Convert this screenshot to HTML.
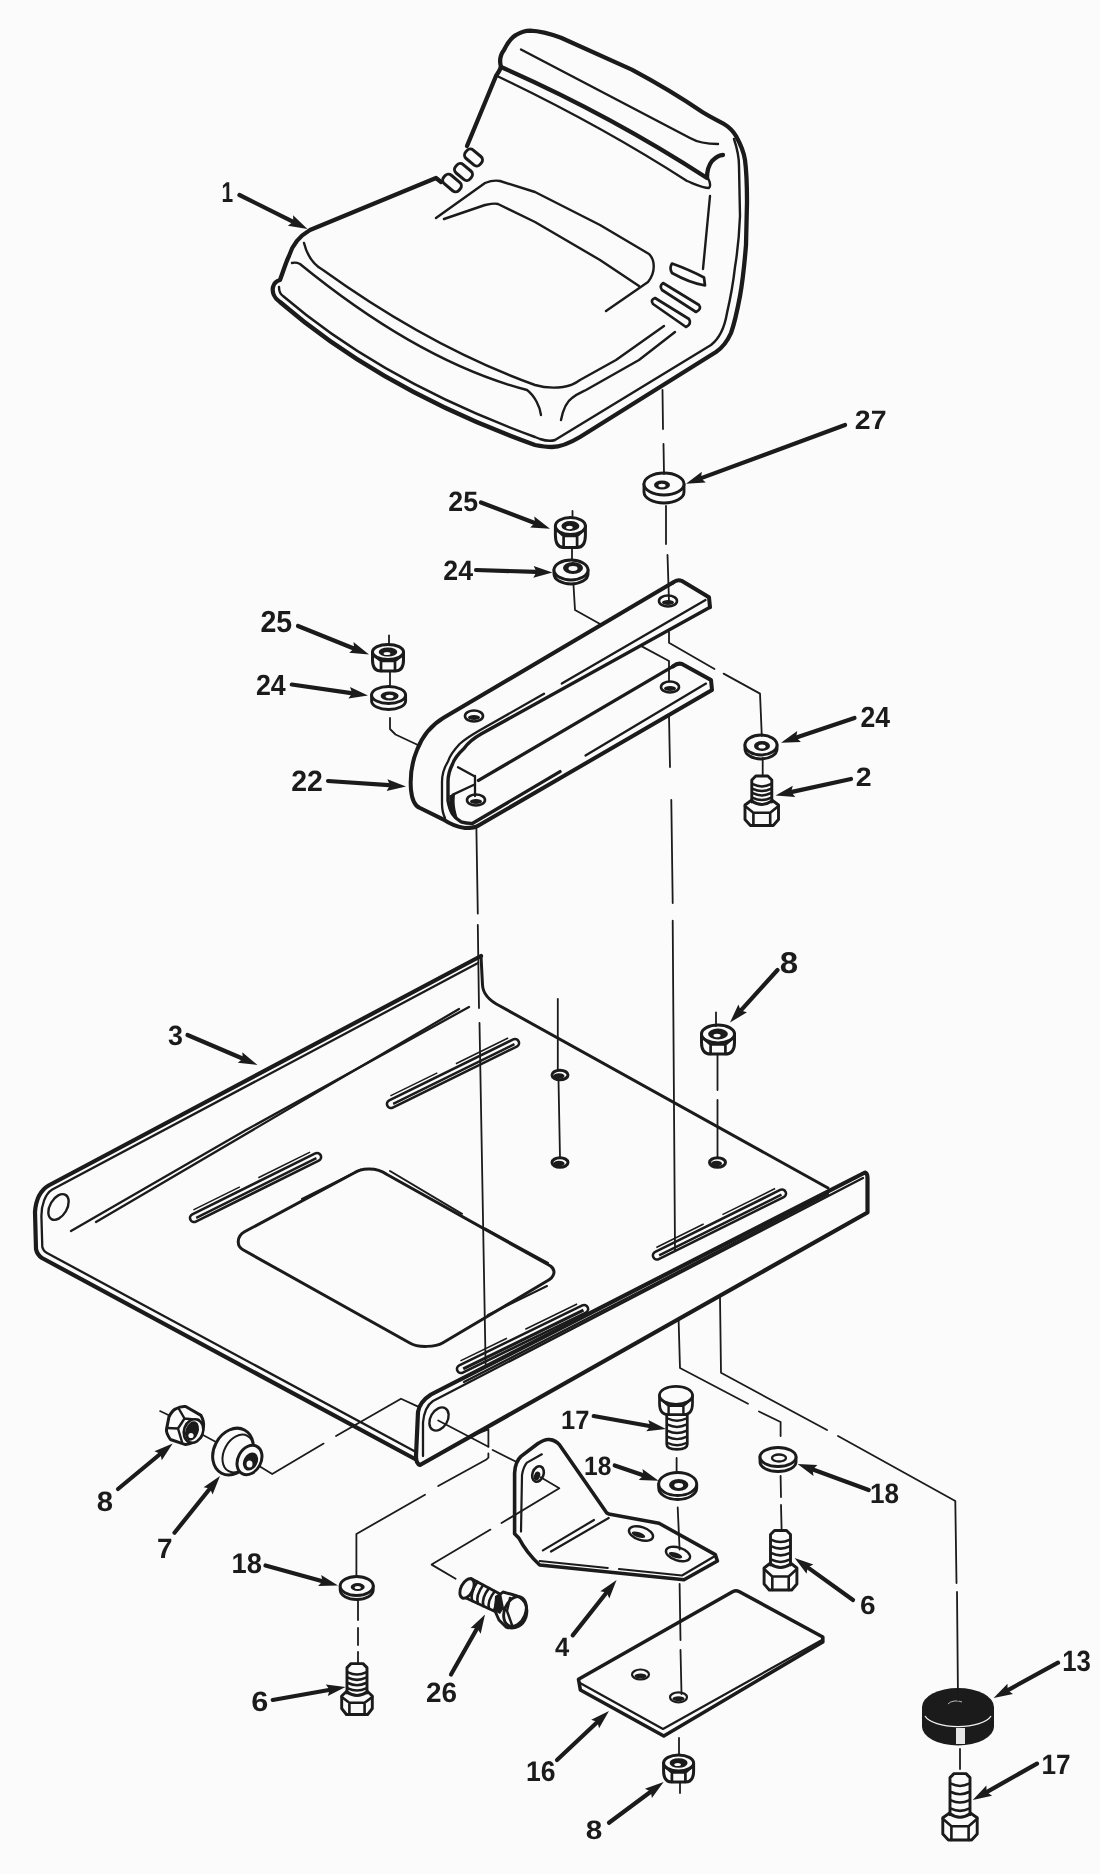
<!DOCTYPE html>
<html><head><meta charset="utf-8"><style>
html,body{margin:0;padding:0;background:#fbfbfb;}
svg{display:block;}
.lb{font-family:"Liberation Sans",sans-serif;font-weight:bold;fill:#1b1b1b;text-rendering:geometricPrecision;-webkit-font-smoothing:antialiased;}
svg{filter:grayscale(1);}
</style></head><body>
<svg width="1100" height="1874" viewBox="0 0 1100 1874">
<rect width="1100" height="1874" fill="#fbfbfb"/>
<path d="M501,67 C499,60 501,54 504,50 C508,42 512,37 516,35 C521,32 526,30.6 530,30.6 C541,31 551,34 561,37.7 L631.8,69.6 Q670,90 702.7,112.2 C712,118 719,121 724,124 C729,127 733,131 736,136 C741,145 744,153 745,160 C747,175 747,190 747,202 L746,245 C744,270 742,285 740,296 C737,312 735,322 731,333 C727,342 722,348 716,352 L580,437 C570,443 560,447 552,447 C545,447 540,446 535,445 Q382,390 280,302 C274,298 272,292 273,287 C274,283 276,281 280,280 C283,272 286,262 289,256 C292,246 298,237 310,230 L436,178 L441,182" fill="none" stroke="#1b1b1b" stroke-width="4.3" stroke-linejoin="round" stroke-linecap="round" />
<path d="M501,67 C500,70 498,73 496,76 L467,146" fill="none" stroke="#1b1b1b" stroke-width="4.3" stroke-linejoin="round" stroke-linecap="round" />
<path d="M501,67 Q610,115 707,178 C707,172 708,166 712,161 C716,157 720,155 723,155" fill="none" stroke="#1b1b1b" stroke-width="4.3" stroke-linejoin="round" stroke-linecap="round" />
<path d="M497,76 Q600,125 687,181 C697,185 703,188 709,188 C711,186 710,182 708,178" fill="none" stroke="#1b1b1b" stroke-width="2.4" stroke-linejoin="round" stroke-linecap="round" />
<path d="M521,49.5 L690,138 C697,142 705,144 718,144" fill="none" stroke="#1b1b1b" stroke-width="2.4" stroke-linejoin="round" stroke-linecap="round" />
<path d="M710,196 L703,269" fill="none" stroke="#1b1b1b" stroke-width="2.4" stroke-linejoin="round" stroke-linecap="round" />
<path d="M734,139 C737,148 739,158 739,166 L740,216 C739,240 737,255 735,267 C733,285 730,300 727,313 C725,325 720,338 711,345 L555,440 C549,442 543,440 540,439 L535,437 Q382,381 283,296 C280,294 279,290 279,287" fill="none" stroke="#1b1b1b" stroke-width="2.4" stroke-linejoin="round" stroke-linecap="round" />
<path d="M304,243 C307,255 314,265 323,270 Q430,347 535,385 C545,388 555,388 563,387 C570,386 576,383 580,380 L616,360 L664,326" fill="none" stroke="#1b1b1b" stroke-width="2.4" stroke-linejoin="round" stroke-linecap="round" />
<path d="M292,263 C296,262 298,263 300,264 Q420,362 527,390 C535,396 540,407 541,415" fill="none" stroke="#1b1b1b" stroke-width="2.4" stroke-linejoin="round" stroke-linecap="round" />
<path d="M561,420 C563,410 566,402 572,398 C577,394 582,392 586,390 L639,360 L675,332" fill="none" stroke="#1b1b1b" stroke-width="2.4" stroke-linejoin="round" stroke-linecap="round" />
<path d="M436,218 L485,183 C490,181 495,180 500,181 L535,192 L600,225 L649,254 C655,260 656,272 648,282 L606,311" fill="none" stroke="#1b1b1b" stroke-width="2.4" stroke-linejoin="round" stroke-linecap="round" />
<path d="M444,219 L485,205 C490,204 494,203 498,204 L535,222 L600,260 L639,286" fill="none" stroke="#1b1b1b" stroke-width="2.4" stroke-linejoin="round" stroke-linecap="round" />
<path d="M672,263.5 Q690,270 704,277.5 L705,285.5 Q690,283 672,273 Q669,268 672,263.5 Z" fill="none" stroke="#1b1b1b" stroke-width="2.7" stroke-linejoin="round" stroke-linecap="round" />
<path d="M663,283 L699,305 Q702,309 696,312 L662,290 Q659,286 663,283 Z" fill="none" stroke="#1b1b1b" stroke-width="2.7" stroke-linejoin="round" stroke-linecap="round" />
<path d="M655,298 L689,319 Q692,324 686,327 L653,304 Q650,300 655,298 Z" fill="none" stroke="#1b1b1b" stroke-width="2.7" stroke-linejoin="round" stroke-linecap="round" />
<rect x="464.0" y="152.0" width="19" height="11" rx="4.5" fill="none" stroke="#1b1b1b" stroke-width="3" transform="rotate(40 473.5 157.5)"/>
<rect x="454.0" y="166.5" width="19" height="11" rx="4.5" fill="none" stroke="#1b1b1b" stroke-width="3" transform="rotate(40 463.5 172.0)"/>
<rect x="442.0" y="177.5" width="20" height="11" rx="4.5" fill="none" stroke="#1b1b1b" stroke-width="3" transform="rotate(40 452.0 183.0)"/>
<path d="M481,956 L48.6,1185.5 C41,1190 36,1198 35,1212 L36,1249 C37,1254 39,1256 42,1258 L415,1459" fill="none" stroke="#1b1b1b" stroke-width="4.2" stroke-linejoin="round" stroke-linecap="round" />
<path d="M478,963 L52.3,1189.5 C45,1194 41.4,1205 41.4,1216 L42.3,1247 C43,1250 45,1252 47,1253 L416,1452" fill="none" stroke="#1b1b1b" stroke-width="2.3" stroke-linejoin="round" stroke-linecap="round" />
<path d="M481,956 L482.5,985 C483,995 490,1001 500,1006 L828,1188" fill="none" stroke="#1b1b1b" stroke-width="3.0" stroke-linejoin="round" stroke-linecap="round" />
<path d="M469,1007 L246,1130 L71,1231" fill="none" stroke="#1b1b1b" stroke-width="2.3" stroke-linejoin="round" stroke-linecap="round" />
<path d="M459,1009 L96,1222" fill="none" stroke="#1b1b1b" stroke-width="2.3" stroke-linejoin="round" stroke-linecap="round" />
<ellipse cx="58.5" cy="1207" rx="8.5" ry="14" fill="none" stroke="#1b1b1b" stroke-width="2.4" transform="rotate(30 58.5 1207)"/>
<path d="M418,1412 C419,1405 424,1399 431,1394.5 L865,1172.5 C866.5,1173 867.5,1175 867.5,1178 L867.5,1212.5 L420,1465 C417,1464 416,1460 416,1456 Z" fill="none" stroke="#1b1b1b" stroke-width="4.2" stroke-linejoin="round" stroke-linecap="round" />
<path d="M423,1456 L423,1422.5 C424,1412 427,1405 433,1401 L863,1178" fill="none" stroke="#1b1b1b" stroke-width="2.3" stroke-linejoin="round" stroke-linecap="round" />
<path d="M464,1382 L647,1288 L828,1194" fill="none" stroke="#1b1b1b" stroke-width="2.3" stroke-linejoin="round" stroke-linecap="round" />
<rect x="379.9" y="1069.5" width="146.2" height="8" rx="4.0" fill="none" stroke="#1b1b1b" stroke-width="2.6" transform="rotate(-26.19 453.0 1073.5)"/>
<line x1="385.9" y1="1074.3" x2="521.1" y2="1074.3" stroke="#1b1b1b" stroke-width="2.4" transform="rotate(-26.19 453.0 1073.5)"/>
<line x1="386.9" y1="1066.0" x2="439.2" y2="1066.0" stroke="#1b1b1b" stroke-width="1.5" transform="rotate(-26.19 453.0 1073.5)"/>
<line x1="459.9" y1="1066.0" x2="518.1" y2="1066.0" stroke="#1b1b1b" stroke-width="1.5" transform="rotate(-26.19 453.0 1073.5)"/>
<rect x="182.9" y="1183.5" width="145.3" height="8" rx="4.0" fill="none" stroke="#1b1b1b" stroke-width="2.6" transform="rotate(-26.38 255.5 1187.5)"/>
<line x1="188.9" y1="1188.3" x2="323.1" y2="1188.3" stroke="#1b1b1b" stroke-width="2.4" transform="rotate(-26.38 255.5 1187.5)"/>
<line x1="189.9" y1="1180.0" x2="241.8" y2="1180.0" stroke="#1b1b1b" stroke-width="1.5" transform="rotate(-26.38 255.5 1187.5)"/>
<line x1="262.4" y1="1180.0" x2="320.1" y2="1180.0" stroke="#1b1b1b" stroke-width="1.5" transform="rotate(-26.38 255.5 1187.5)"/>
<rect x="645.7" y="1220.5" width="147.5" height="8" rx="4.0" fill="none" stroke="#1b1b1b" stroke-width="2.6" transform="rotate(-26.38 719.5 1224.5)"/>
<line x1="651.7" y1="1225.3" x2="788.3" y2="1225.3" stroke="#1b1b1b" stroke-width="2.4" transform="rotate(-26.38 719.5 1224.5)"/>
<line x1="652.7" y1="1217.0" x2="705.5" y2="1217.0" stroke="#1b1b1b" stroke-width="1.5" transform="rotate(-26.38 719.5 1224.5)"/>
<line x1="726.5" y1="1217.0" x2="785.3" y2="1217.0" stroke="#1b1b1b" stroke-width="1.5" transform="rotate(-26.38 719.5 1224.5)"/>
<rect x="450.1" y="1335.0" width="144.9" height="8" rx="4.0" fill="none" stroke="#1b1b1b" stroke-width="2.6" transform="rotate(-26.00 522.5 1339.0)"/>
<line x1="456.1" y1="1339.8" x2="589.9" y2="1339.8" stroke="#1b1b1b" stroke-width="3.2" transform="rotate(-26.00 522.5 1339.0)"/>
<line x1="457.1" y1="1331.5" x2="508.8" y2="1331.5" stroke="#1b1b1b" stroke-width="1.5" transform="rotate(-26.00 522.5 1339.0)"/>
<line x1="529.3" y1="1331.5" x2="586.9" y2="1331.5" stroke="#1b1b1b" stroke-width="1.5" transform="rotate(-26.00 522.5 1339.0)"/>
<path d="M244.5,1231.8 L354,1173 C360,1169 375,1166 387,1174.5 L550.5,1266 C556,1270 555,1277 547,1281 L442.5,1343 C436,1347 418,1348 409.8,1343 L243,1249.8 C236,1246 237,1236 244.5,1231.8 Z" fill="none" stroke="#1b1b1b" stroke-width="3.0" stroke-linejoin="round" stroke-linecap="round" />
<path d="M302,1199 L360.7,1169.6 M390,1171 L462,1213.8 M485,1228.5 L548,1263 M488,1315 L547,1286" fill="none" stroke="#1b1b1b" stroke-width="2.0" stroke-linejoin="round" stroke-linecap="round" />
<ellipse cx="560" cy="1075" rx="8" ry="4.8" fill="none" stroke="#1b1b1b" stroke-width="3.0"/>
<ellipse cx="559" cy="1076" rx="5.5" ry="2.8" fill="#1b1b1b"/>
<ellipse cx="560" cy="1162.5" rx="8" ry="4.8" fill="none" stroke="#1b1b1b" stroke-width="3.0"/>
<ellipse cx="559" cy="1163.5" rx="5.5" ry="2.8" fill="#1b1b1b"/>
<ellipse cx="717.5" cy="1162.5" rx="8" ry="4.8" fill="none" stroke="#1b1b1b" stroke-width="3.0"/>
<ellipse cx="716.5" cy="1163.5" rx="5.5" ry="2.8" fill="#1b1b1b"/>
<ellipse cx="439" cy="1419" rx="8.5" ry="12.5" fill="none" stroke="#1b1b1b" stroke-width="2.4" transform="rotate(30 439 1419)"/>
<path d="M673,582.5 C676,580 679,579.5 682,581 L709,597.3 L710,607.3" fill="none" stroke="#1b1b1b" stroke-width="4.0" stroke-linejoin="round" stroke-linecap="round" />
<path d="M673,582.5 L443.6,717.8 C430,726 422,737 417,750 C412,762 410,778 411,790 C412,800 415,806 420,808 L443.6,819.6 C450,824 458,827 465,828 C470,828 475,828 478.5,825.5 L712,690 L711,680 L682,664 C679,663 676,664 673,666.4" fill="none" stroke="#1b1b1b" stroke-width="4.0" stroke-linejoin="round" stroke-linecap="round" />
<path d="M710,607.3 L481.5,733.8 C474,738 468,743 464,748.4 C458,754 454,759 452.4,764.4 C449,771 448,776 448,781.8 L448,800.7 C449,806 450,810 452.4,813.8 C455,818 458,820 461,821.8 C465,823 469,823.5 472.7,823.3 L560,771.6" fill="none" stroke="#1b1b1b" stroke-width="3.4" stroke-linejoin="round" stroke-linecap="round" />
<path d="M544,693.8 L478.5,731 C470,736 464,740 459.6,744 C454,750 450,755 448,761.5 C444,768 442,775 442,781.8 L442,803.6 C442,810 443,814 445,818" fill="none" stroke="#1b1b1b" stroke-width="2.3" stroke-linejoin="round" stroke-linecap="round" />
<path d="M561.8,683.6 L705.5,600" fill="none" stroke="#1b1b1b" stroke-width="2.3" stroke-linejoin="round" stroke-linecap="round" />
<path d="M585.5,755.5 L706,683.6" fill="none" stroke="#1b1b1b" stroke-width="2.3" stroke-linejoin="round" stroke-linecap="round" />
<path d="M478.5,780.4 L673,666.4" fill="none" stroke="#1b1b1b" stroke-width="3.4" stroke-linejoin="round" stroke-linecap="round" />
<path d="M452.4,794.9 L474,784.7 M474,776 L458,767.3 M475,776 L475,796" fill="none" stroke="#1b1b1b" stroke-width="2.3" stroke-linejoin="round" stroke-linecap="round" />
<path d="M449.5,795 C449,803 450,812 457,820 L458,819 C455,810 454,803 455,795 Z" fill="#1b1b1b" stroke="none" />
<ellipse cx="474" cy="716" rx="9" ry="5.5" fill="none" stroke="#1b1b1b" stroke-width="2.6"/>
<ellipse cx="474" cy="717.5" rx="6" ry="2.5" fill="#1b1b1b"/>
<ellipse cx="476" cy="800" rx="9" ry="5.5" fill="none" stroke="#1b1b1b" stroke-width="2.6"/>
<ellipse cx="476" cy="801.5" rx="6" ry="2.5" fill="#1b1b1b"/>
<ellipse cx="668" cy="601" rx="9" ry="5.5" fill="none" stroke="#1b1b1b" stroke-width="2.6"/>
<ellipse cx="668" cy="602.5" rx="6" ry="2.5" fill="#1b1b1b"/>
<ellipse cx="670" cy="687" rx="9" ry="5.5" fill="none" stroke="#1b1b1b" stroke-width="2.6"/>
<ellipse cx="670" cy="688.5" rx="6" ry="2.5" fill="#1b1b1b"/>
<path d="M644.0,484.0 L644.0,492.0 A20.0,11.0 0 0 0 684.0,492.0 L684.0,484.0" fill="none" stroke="#1b1b1b" stroke-width="2.9" stroke-linejoin="round" stroke-linecap="round" />
<ellipse cx="664.0" cy="484.0" rx="20.0" ry="11.0" fill="#fbfbfb" stroke="#1b1b1b" stroke-width="2.9"/>
<ellipse cx="662.0" cy="485.0" rx="8.0" ry="4.5" fill="#1b1b1b"/>
<ellipse cx="662.0" cy="485.5" rx="3.6" ry="1.8" fill="#fbfbfb"/>
<path d="M555.4,526.0 L555.4,535.1 Q555.4,547.6 563.6,547.6 L577.1,547.6 Q585.4,547.6 585.4,535.1 L585.4,526.0" fill="#fbfbfb" stroke="#1b1b1b" stroke-width="3.0" stroke-linejoin="round" stroke-linecap="round" />
<ellipse cx="570.4" cy="526.0" rx="15.0" ry="8.5" fill="#fbfbfb" stroke="#1b1b1b" stroke-width="3.0"/>
<path d="M555.9,529.0 L563.6,536.0 L577.1,536.0 L584.9,529.0 M563.6,536.0 L563.6,547.6 M577.1,536.0 L577.1,547.6" fill="none" stroke="#1b1b1b" stroke-width="2.7" stroke-linejoin="round" stroke-linecap="round" />
<ellipse cx="570.4" cy="526.0" rx="9.0" ry="5.1" fill="#1b1b1b"/>
<ellipse cx="569.4" cy="527.5" rx="3.3" ry="1.7" fill="#fbfbfb"/>
<path d="M554.0,570.0 L554.0,574.0 A17.0,10.0 0 0 0 588.0,574.0 L588.0,570.0" fill="none" stroke="#1b1b1b" stroke-width="2.9" stroke-linejoin="round" stroke-linecap="round" />
<ellipse cx="571.0" cy="570.0" rx="17.0" ry="10.0" fill="#fbfbfb" stroke="#1b1b1b" stroke-width="2.9"/>
<ellipse cx="573.0" cy="568.0" rx="10.0" ry="6.0" fill="#1b1b1b"/>
<ellipse cx="573.0" cy="568.5" rx="4.5" ry="2.4" fill="#fbfbfb"/>
<path d="M372.5,652.0 L372.5,660.0 Q372.5,671.0 381.0,671.0 L395.0,671.0 Q403.5,671.0 403.5,660.0 L403.5,652.0" fill="#fbfbfb" stroke="#1b1b1b" stroke-width="3.0" stroke-linejoin="round" stroke-linecap="round" />
<ellipse cx="388.0" cy="652.0" rx="15.5" ry="7.5" fill="#fbfbfb" stroke="#1b1b1b" stroke-width="3.0"/>
<path d="M373.0,654.6 L381.0,661.0 L395.0,661.0 L403.0,654.6 M381.0,661.0 L381.0,671.0 M395.0,661.0 L395.0,671.0" fill="none" stroke="#1b1b1b" stroke-width="2.7" stroke-linejoin="round" stroke-linecap="round" />
<ellipse cx="388.0" cy="652.0" rx="9.3" ry="4.5" fill="#1b1b1b"/>
<ellipse cx="387.0" cy="653.5" rx="3.4" ry="1.5" fill="#fbfbfb"/>
<path d="M371.6,695.0 L371.6,701.0 A17.0,8.5 0 0 0 405.6,701.0 L405.6,695.0" fill="none" stroke="#1b1b1b" stroke-width="2.9" stroke-linejoin="round" stroke-linecap="round" />
<ellipse cx="388.6" cy="695.0" rx="17.0" ry="8.5" fill="#fbfbfb" stroke="#1b1b1b" stroke-width="2.9"/>
<ellipse cx="389.6" cy="696.0" rx="9.0" ry="4.5" fill="#1b1b1b"/>
<ellipse cx="389.6" cy="696.5" rx="4.0" ry="1.8" fill="#fbfbfb"/>
<path d="M745.0,745.0 L745.0,749.0 A16.0,10.0 0 0 0 777.0,749.0 L777.0,745.0" fill="none" stroke="#1b1b1b" stroke-width="2.9" stroke-linejoin="round" stroke-linecap="round" />
<ellipse cx="761.0" cy="745.0" rx="16.0" ry="10.0" fill="#fbfbfb" stroke="#1b1b1b" stroke-width="2.9"/>
<ellipse cx="762.0" cy="746.0" rx="8.0" ry="5.0" fill="#1b1b1b"/>
<ellipse cx="762.0" cy="746.5" rx="3.6" ry="2.0" fill="#fbfbfb"/>
<path d="M751.8,800.0 L745.0,805.0 L745.0,819.5 L750.4,825.5 L773.2,825.5 L778.5,819.5 L778.5,805.0 L771.8,800.0" fill="#fbfbfb" stroke="#1b1b1b" stroke-width="2.9" stroke-linejoin="round" stroke-linecap="round" />
<path d="M745.0,806.0 L753.4,812.8 L770.2,812.8 L778.5,806.0 M753.4,812.8 L753.4,825.5 M770.2,812.8 L770.2,825.5" fill="none" stroke="#1b1b1b" stroke-width="2.61" stroke-linejoin="round" stroke-linecap="round" />
<path d="M751.8,802.0 L751.8,780.0 L755.8,776.0 L767.8,776.0 L771.8,780.0 L771.8,802.0" fill="#fbfbfb" stroke="#1b1b1b" stroke-width="2.9" stroke-linejoin="round" stroke-linecap="round" />
<path d="M751.8,801.0 Q761.8,808.0 771.8,801.0" fill="none" stroke="#1b1b1b" stroke-width="2.9" stroke-linejoin="round" stroke-linecap="round" />
<path d="M752.8,784.2 Q761.8,788.8 770.8,784.2" fill="none" stroke="#1b1b1b" stroke-width="2.61" stroke-linejoin="round" stroke-linecap="round" />
<path d="M752.8,788.8 Q761.8,793.2 770.8,788.8" fill="none" stroke="#1b1b1b" stroke-width="2.61" stroke-linejoin="round" stroke-linecap="round" />
<path d="M752.8,793.2 Q761.8,797.8 770.8,793.2" fill="none" stroke="#1b1b1b" stroke-width="2.61" stroke-linejoin="round" stroke-linecap="round" />
<path d="M752.8,797.8 Q761.8,802.2 770.8,797.8" fill="none" stroke="#1b1b1b" stroke-width="2.61" stroke-linejoin="round" stroke-linecap="round" />
<path d="M701.5,1034.0 L701.5,1042.4 Q701.5,1054.0 710.6,1054.0 L725.4,1054.0 Q734.5,1054.0 734.5,1042.4 L734.5,1034.0" fill="#fbfbfb" stroke="#1b1b1b" stroke-width="3.0" stroke-linejoin="round" stroke-linecap="round" />
<ellipse cx="718.0" cy="1034.0" rx="16.5" ry="9.0" fill="#fbfbfb" stroke="#1b1b1b" stroke-width="3.0"/>
<path d="M702.0,1037.2 L710.6,1044.5 L725.4,1044.5 L734.0,1037.2 M710.6,1044.5 L710.6,1054.0 M725.4,1044.5 L725.4,1054.0" fill="none" stroke="#1b1b1b" stroke-width="2.7" stroke-linejoin="round" stroke-linecap="round" />
<ellipse cx="718.0" cy="1034.0" rx="9.9" ry="5.4" fill="#1b1b1b"/>
<ellipse cx="717.0" cy="1035.5" rx="3.6" ry="1.8" fill="#fbfbfb"/>
<path d="M666.7,1412.7 L666.7,1444.3 Q666.7,1449.3 677.0,1449.3 Q687.3,1449.3 687.3,1444.3 L687.3,1412.7" fill="#fbfbfb" stroke="#1b1b1b" stroke-width="2.7" stroke-linejoin="round" stroke-linecap="round" />
<path d="M667.7,1418.5 Q677.0,1423.0 686.3,1418.5" fill="none" stroke="#1b1b1b" stroke-width="2.43" stroke-linejoin="round" stroke-linecap="round" />
<path d="M667.7,1424.7 Q677.0,1429.2 686.3,1424.7" fill="none" stroke="#1b1b1b" stroke-width="2.43" stroke-linejoin="round" stroke-linecap="round" />
<path d="M667.7,1430.8 Q677.0,1435.3 686.3,1430.8" fill="none" stroke="#1b1b1b" stroke-width="2.43" stroke-linejoin="round" stroke-linecap="round" />
<path d="M667.7,1436.9 Q677.0,1441.4 686.3,1436.9" fill="none" stroke="#1b1b1b" stroke-width="2.43" stroke-linejoin="round" stroke-linecap="round" />
<path d="M667.7,1443.0 Q677.0,1447.5 686.3,1443.0" fill="none" stroke="#1b1b1b" stroke-width="2.43" stroke-linejoin="round" stroke-linecap="round" />
<path d="M659.5,1395.3 L659.5,1403.4 Q659.5,1414.7 668.6,1414.7 L683.4,1414.7 Q692.5,1414.7 692.5,1403.4 L692.5,1395.3" fill="#fbfbfb" stroke="#1b1b1b" stroke-width="2.7" stroke-linejoin="round" stroke-linecap="round" />
<ellipse cx="676.0" cy="1395.3" rx="16.5" ry="9.0" fill="#fbfbfb" stroke="#1b1b1b" stroke-width="2.7"/>
<path d="M660.0,1398.5 L668.6,1405.8 L683.4,1405.8 L692.0,1398.5 M668.6,1405.8 L668.6,1414.7 M683.4,1405.8 L683.4,1414.7" fill="none" stroke="#1b1b1b" stroke-width="2.43" stroke-linejoin="round" stroke-linecap="round" />
<path d="M658.7,1484.0 L658.7,1488.0 A19.0,11.5 0 0 0 696.7,1488.0 L696.7,1484.0" fill="none" stroke="#1b1b1b" stroke-width="2.9" stroke-linejoin="round" stroke-linecap="round" />
<ellipse cx="677.7" cy="1484.0" rx="19.0" ry="11.5" fill="#fbfbfb" stroke="#1b1b1b" stroke-width="2.9"/>
<ellipse cx="678.7" cy="1485.0" rx="9.7" ry="6.0" fill="#1b1b1b"/>
<ellipse cx="678.7" cy="1485.5" rx="4.4" ry="2.4" fill="#fbfbfb"/>
<path d="M760.0,1457.0 L760.0,1462.0 A18.0,9.5 0 0 0 796.0,1462.0 L796.0,1457.0" fill="none" stroke="#1b1b1b" stroke-width="2.9" stroke-linejoin="round" stroke-linecap="round" />
<ellipse cx="778.0" cy="1457.0" rx="18.0" ry="9.5" fill="#fbfbfb" stroke="#1b1b1b" stroke-width="2.9"/>
<ellipse cx="779.0" cy="1458.0" rx="7.0" ry="3.5" fill="none" stroke="#1b1b1b" stroke-width="2.32"/>
<path d="M770.5,1563.0 L764.1,1568.0 L764.1,1584.0 L769.3,1590.0 L791.7,1590.0 L796.9,1584.0 L796.9,1568.0 L790.5,1563.0" fill="#fbfbfb" stroke="#1b1b1b" stroke-width="2.9" stroke-linejoin="round" stroke-linecap="round" />
<path d="M764.1,1569.0 L772.3,1576.5 L788.7,1576.5 L796.9,1569.0 M772.3,1576.5 L772.3,1590.0 M788.7,1576.5 L788.7,1590.0" fill="none" stroke="#1b1b1b" stroke-width="2.61" stroke-linejoin="round" stroke-linecap="round" />
<path d="M770.5,1565.0 L770.5,1534.5 L774.5,1530.5 L786.5,1530.5 L790.5,1534.5 L790.5,1565.0" fill="#fbfbfb" stroke="#1b1b1b" stroke-width="2.9" stroke-linejoin="round" stroke-linecap="round" />
<path d="M770.5,1564.0 Q780.5,1571.0 790.5,1564.0" fill="none" stroke="#1b1b1b" stroke-width="2.9" stroke-linejoin="round" stroke-linecap="round" />
<path d="M771.5,1539.8 Q780.5,1544.3 789.5,1539.8" fill="none" stroke="#1b1b1b" stroke-width="2.61" stroke-linejoin="round" stroke-linecap="round" />
<path d="M771.5,1546.4 Q780.5,1550.9 789.5,1546.4" fill="none" stroke="#1b1b1b" stroke-width="2.61" stroke-linejoin="round" stroke-linecap="round" />
<path d="M771.5,1553.1 Q780.5,1557.6 789.5,1553.1" fill="none" stroke="#1b1b1b" stroke-width="2.61" stroke-linejoin="round" stroke-linecap="round" />
<path d="M771.5,1559.7 Q780.5,1564.2 789.5,1559.7" fill="none" stroke="#1b1b1b" stroke-width="2.61" stroke-linejoin="round" stroke-linecap="round" />
<path d="M340.2,1586.0 L340.2,1590.0 A16.5,9.5 0 0 0 373.2,1590.0 L373.2,1586.0" fill="none" stroke="#1b1b1b" stroke-width="2.9" stroke-linejoin="round" stroke-linecap="round" />
<ellipse cx="356.7" cy="1586.0" rx="16.5" ry="9.5" fill="#fbfbfb" stroke="#1b1b1b" stroke-width="2.9"/>
<ellipse cx="357.7" cy="1587.0" rx="7.0" ry="4.0" fill="#1b1b1b"/>
<ellipse cx="357.7" cy="1587.5" rx="3.1" ry="1.6" fill="#fbfbfb"/>
<path d="M347.0,1691.0 L341.7,1696.0 L341.7,1708.5 L346.4,1714.5 L367.6,1714.5 L372.3,1708.5 L372.3,1696.0 L367.0,1691.0" fill="#fbfbfb" stroke="#1b1b1b" stroke-width="2.9" stroke-linejoin="round" stroke-linecap="round" />
<path d="M341.7,1697.0 L349.4,1702.8 L364.6,1702.8 L372.3,1697.0 M349.4,1702.8 L349.4,1714.5 M364.6,1702.8 L364.6,1714.5" fill="none" stroke="#1b1b1b" stroke-width="2.61" stroke-linejoin="round" stroke-linecap="round" />
<path d="M347.0,1693.0 L347.0,1667.6 L351.0,1663.6 L363.0,1663.6 L367.0,1667.6 L367.0,1693.0" fill="#fbfbfb" stroke="#1b1b1b" stroke-width="2.9" stroke-linejoin="round" stroke-linecap="round" />
<path d="M347.0,1692.0 Q357.0,1699.0 367.0,1692.0" fill="none" stroke="#1b1b1b" stroke-width="2.9" stroke-linejoin="round" stroke-linecap="round" />
<path d="M348.0,1672.3 Q357.0,1676.8 366.0,1672.3" fill="none" stroke="#1b1b1b" stroke-width="2.61" stroke-linejoin="round" stroke-linecap="round" />
<path d="M348.0,1677.6 Q357.0,1682.1 366.0,1677.6" fill="none" stroke="#1b1b1b" stroke-width="2.61" stroke-linejoin="round" stroke-linecap="round" />
<path d="M348.0,1683.0 Q357.0,1687.5 366.0,1683.0" fill="none" stroke="#1b1b1b" stroke-width="2.61" stroke-linejoin="round" stroke-linecap="round" />
<path d="M348.0,1688.3 Q357.0,1692.8 366.0,1688.3" fill="none" stroke="#1b1b1b" stroke-width="2.61" stroke-linejoin="round" stroke-linecap="round" />
<path d="M663.6,1763.0 L663.6,1771.0 Q663.6,1782.0 671.9,1782.0 L685.4,1782.0 Q693.6,1782.0 693.6,1771.0 L693.6,1763.0" fill="#fbfbfb" stroke="#1b1b1b" stroke-width="3.0" stroke-linejoin="round" stroke-linecap="round" />
<ellipse cx="678.6" cy="1763.0" rx="15.0" ry="8.0" fill="#fbfbfb" stroke="#1b1b1b" stroke-width="3.0"/>
<path d="M664.1,1765.8 L671.9,1772.5 L685.4,1772.5 L693.1,1765.8 M671.9,1772.5 L671.9,1782.0 M685.4,1772.5 L685.4,1782.0" fill="none" stroke="#1b1b1b" stroke-width="2.7" stroke-linejoin="round" stroke-linecap="round" />
<ellipse cx="678.6" cy="1763.0" rx="9.0" ry="4.8" fill="#1b1b1b"/>
<ellipse cx="677.6" cy="1764.5" rx="3.3" ry="1.6" fill="#fbfbfb"/>
<path d="M950.0,1812.7 L942.8,1817.7 L942.8,1834.0 L948.4,1840.0 L971.6,1840.0 L977.2,1834.0 L977.2,1817.7 L970.0,1812.7" fill="#fbfbfb" stroke="#1b1b1b" stroke-width="2.9" stroke-linejoin="round" stroke-linecap="round" />
<path d="M942.8,1818.7 L951.4,1826.3 L968.6,1826.3 L977.2,1818.7 M951.4,1826.3 L951.4,1840.0 M968.6,1826.3 L968.6,1840.0" fill="none" stroke="#1b1b1b" stroke-width="2.61" stroke-linejoin="round" stroke-linecap="round" />
<path d="M950.0,1814.7 L950.0,1777.6 L954.0,1773.6 L966.0,1773.6 L970.0,1777.6 L970.0,1814.7" fill="#fbfbfb" stroke="#1b1b1b" stroke-width="2.9" stroke-linejoin="round" stroke-linecap="round" />
<path d="M950.0,1813.7 Q960.0,1820.7 970.0,1813.7" fill="none" stroke="#1b1b1b" stroke-width="2.9" stroke-linejoin="round" stroke-linecap="round" />
<path d="M951.0,1783.7 Q960.0,1788.2 969.0,1783.7" fill="none" stroke="#1b1b1b" stroke-width="2.61" stroke-linejoin="round" stroke-linecap="round" />
<path d="M951.0,1792.0 Q960.0,1796.5 969.0,1792.0" fill="none" stroke="#1b1b1b" stroke-width="2.61" stroke-linejoin="round" stroke-linecap="round" />
<path d="M951.0,1800.3 Q960.0,1804.8 969.0,1800.3" fill="none" stroke="#1b1b1b" stroke-width="2.61" stroke-linejoin="round" stroke-linecap="round" />
<path d="M951.0,1808.6 Q960.0,1813.1 969.0,1808.6" fill="none" stroke="#1b1b1b" stroke-width="2.61" stroke-linejoin="round" stroke-linecap="round" />
<polyline points="662.5,390.0 663.0,429.0" fill="none" stroke="#1b1b1b" stroke-width="1.8" stroke-linejoin="round" stroke-linecap="round" />
<polyline points="663.5,444.0 664.0,474.0" fill="none" stroke="#1b1b1b" stroke-width="1.8" stroke-linejoin="round" stroke-linecap="round" />
<polyline points="666.0,506.0 666.0,544.0" fill="none" stroke="#1b1b1b" stroke-width="1.8" stroke-linejoin="round" stroke-linecap="round" />
<polyline points="667.5,555.0 669.0,602.0" fill="none" stroke="#1b1b1b" stroke-width="1.8" stroke-linejoin="round" stroke-linecap="round" />
<polyline points="572.5,511.0 572.5,518.0" fill="none" stroke="#1b1b1b" stroke-width="1.8" stroke-linejoin="round" stroke-linecap="round" />
<polyline points="572.0,547.0 572.0,560.0" fill="none" stroke="#1b1b1b" stroke-width="1.8" stroke-linejoin="round" stroke-linecap="round" />
<polyline points="573.5,585.0 575.0,610.0 601.0,624.5" fill="none" stroke="#1b1b1b" stroke-width="1.8" stroke-linejoin="round" stroke-linecap="round" />
<polyline points="641.8,646.4 669.0,661.0 669.0,681.0" fill="none" stroke="#1b1b1b" stroke-width="1.8" stroke-linejoin="round" stroke-linecap="round" />
<polyline points="669.0,632.0 669.0,642.7 714.5,669.0" fill="none" stroke="#1b1b1b" stroke-width="1.8" stroke-linejoin="round" stroke-linecap="round" />
<polyline points="723.6,673.6 760.0,693.6 761.8,736.0" fill="none" stroke="#1b1b1b" stroke-width="1.8" stroke-linejoin="round" stroke-linecap="round" />
<polyline points="762.7,758.0 762.7,776.0" fill="none" stroke="#1b1b1b" stroke-width="1.8" stroke-linejoin="round" stroke-linecap="round" />
<polyline points="389.0,635.5 389.0,644.0" fill="none" stroke="#1b1b1b" stroke-width="1.8" stroke-linejoin="round" stroke-linecap="round" />
<polyline points="390.0,672.0 390.0,687.0" fill="none" stroke="#1b1b1b" stroke-width="1.8" stroke-linejoin="round" stroke-linecap="round" />
<polyline points="390.0,718.0 390.0,729.0 395.5,734.5 419.0,745.5" fill="none" stroke="#1b1b1b" stroke-width="1.8" stroke-linejoin="round" stroke-linecap="round" />
<polyline points="476.4,829.0 477.8,913.5" fill="none" stroke="#1b1b1b" stroke-width="1.8" stroke-linejoin="round" stroke-linecap="round" />
<polyline points="477.8,925.0 479.0,1008.0" fill="none" stroke="#1b1b1b" stroke-width="1.8" stroke-linejoin="round" stroke-linecap="round" />
<polyline points="479.5,1023.0 485.6,1364.0" fill="none" stroke="#1b1b1b" stroke-width="1.8" stroke-linejoin="round" stroke-linecap="round" />
<polyline points="669.0,715.5 670.0,767.0" fill="none" stroke="#1b1b1b" stroke-width="1.8" stroke-linejoin="round" stroke-linecap="round" />
<polyline points="671.3,800.0 672.7,903.0" fill="none" stroke="#1b1b1b" stroke-width="1.8" stroke-linejoin="round" stroke-linecap="round" />
<polyline points="672.7,920.7 675.0,1250.0" fill="none" stroke="#1b1b1b" stroke-width="1.8" stroke-linejoin="round" stroke-linecap="round" />
<polyline points="557.8,999.0 557.8,1070.0" fill="none" stroke="#1b1b1b" stroke-width="1.8" stroke-linejoin="round" stroke-linecap="round" />
<polyline points="558.5,1080.0 560.0,1158.0" fill="none" stroke="#1b1b1b" stroke-width="1.8" stroke-linejoin="round" stroke-linecap="round" />
<polyline points="716.0,1012.5 716.0,1026.0" fill="none" stroke="#1b1b1b" stroke-width="1.8" stroke-linejoin="round" stroke-linecap="round" />
<polyline points="717.5,1055.0 717.5,1090.0" fill="none" stroke="#1b1b1b" stroke-width="1.8" stroke-linejoin="round" stroke-linecap="round" />
<polyline points="717.5,1100.0 717.5,1158.0" fill="none" stroke="#1b1b1b" stroke-width="1.8" stroke-linejoin="round" stroke-linecap="round" />
<path d="M514.6,1533.7 L514.6,1473 C515,1465 517,1460 521,1456.4 L537.6,1443.8 C543,1440 547,1439 550,1439.6 C554,1440 557,1442 559.6,1444.9 L606.6,1512.8 L608.7,1513.9 L659,1523.3 L715.3,1554.6 L717.4,1561 L684,1579.7 L539.7,1565 C530,1556 524,1548 518.8,1538 Z" fill="none" stroke="#1b1b1b" stroke-width="3.6" stroke-linejoin="round" stroke-linecap="round" />
<path d="M521,1531.6 L522,1475 C523,1469 524,1466 527,1462.6 L541.8,1454.3" fill="none" stroke="#1b1b1b" stroke-width="2.2" stroke-linejoin="round" stroke-linecap="round" />
<path d="M542.9,1550.4 L594,1520 M551,1551.5 L608.7,1518" fill="none" stroke="#1b1b1b" stroke-width="2.2" stroke-linejoin="round" stroke-linecap="round" />
<path d="M539.7,1561 L607.7,1568 M619,1569 L682,1575.5 L715,1556" fill="none" stroke="#1b1b1b" stroke-width="2.2" stroke-linejoin="round" stroke-linecap="round" />
<ellipse cx="538" cy="1474" rx="5.5" ry="8" fill="none" stroke="#1b1b1b" stroke-width="2.6" transform="rotate(20 538 1474)"/>
<ellipse cx="537" cy="1476" rx="3" ry="4.5" fill="#1b1b1b" transform="rotate(20 537 1476)"/>
<ellipse cx="641" cy="1533.5" rx="12.5" ry="6.5" fill="none" stroke="#1b1b1b" stroke-width="2.4" transform="rotate(18 641 1533.5)"/>
<ellipse cx="639" cy="1535.5" rx="7" ry="2.6" fill="#1b1b1b" transform="rotate(18 641 1533.5)"/>
<ellipse cx="678" cy="1554" rx="12.5" ry="6.5" fill="none" stroke="#1b1b1b" stroke-width="2.4" transform="rotate(18 678 1554)"/>
<ellipse cx="676" cy="1556" rx="7" ry="2.6" fill="#1b1b1b" transform="rotate(18 678 1554)"/>
<path d="M578.5,1679.3 L733,1591.5 C735,1590.5 737,1590.5 739,1591.5 L822.8,1637 L822.8,1642 L663.8,1736 L580.4,1690 Z" fill="none" stroke="#1b1b1b" stroke-width="3.6" stroke-linejoin="round" stroke-linecap="round" />
<path d="M580,1683 L663,1729 L822,1640" fill="none" stroke="#1b1b1b" stroke-width="2.2" stroke-linejoin="round" stroke-linecap="round" />
<ellipse cx="640.5" cy="1674.5" rx="8.5" ry="5" fill="none" stroke="#1b1b1b" stroke-width="2.2"/>
<ellipse cx="640.5" cy="1676.0" rx="6" ry="2.5" fill="#1b1b1b"/>
<ellipse cx="678.5" cy="1697.3" rx="8.5" ry="5" fill="none" stroke="#1b1b1b" stroke-width="2.2"/>
<ellipse cx="678.5" cy="1698.8" rx="6" ry="2.5" fill="#1b1b1b"/>
<path d="M922,1707 A36,19 0 0 1 994,1707 L994,1726.5 A36,19 0 0 1 922,1726.5 Z" fill="#1b1b1b" stroke="none" />
<path d="M925,1714 A34,15 0 0 0 991,1714" fill="none" stroke="#1b1b1b" stroke-width="1.2" stroke-linejoin="round" stroke-linecap="round" data-x="#e8e8e8"/>
<path d="M925,1716 A34,14 0 0 0 991,1716" fill="none" stroke="#f2f2f2" stroke-width="1.3"/>
<rect x="956" y="1728" width="9" height="16" fill="#e6e6e6"/>
<path d="M948,1704 A9,5 0 0 1 962,1702" fill="none" stroke="#bbbbbb" stroke-width="1"/>
<path d="M471,1578.5 L500,1594 L494,1611 L466,1598" fill="#fbfbfb" stroke="#1b1b1b" stroke-width="2.9" stroke-linejoin="round" stroke-linecap="round" />
<ellipse cx="467" cy="1588.5" rx="6" ry="10.5" fill="#fbfbfb" stroke="#1b1b1b" stroke-width="2.9" transform="rotate(27 467 1588.5)"/>
<path d="M477.4,1581.9 Q469.8,1592.4 472.2,1600.9" fill="none" stroke="#1b1b1b" stroke-width="2.6" stroke-linejoin="round" stroke-linecap="round" />
<path d="M483.2,1585.0 Q475.5,1595.2 477.8,1603.5" fill="none" stroke="#1b1b1b" stroke-width="2.6" stroke-linejoin="round" stroke-linecap="round" />
<path d="M489.0,1588.1 Q481.2,1598.1 483.4,1606.1" fill="none" stroke="#1b1b1b" stroke-width="2.6" stroke-linejoin="round" stroke-linecap="round" />
<path d="M494.8,1591.2 Q486.9,1600.9 489.0,1608.7" fill="none" stroke="#1b1b1b" stroke-width="2.6" stroke-linejoin="round" stroke-linecap="round" />
<path d="M497,1597 L503,1592 L514,1595 C524,1597 529,1606 526,1617 C523,1626 515,1630 506,1627 L499,1620 L495,1611 Z" fill="#fbfbfb" stroke="#1b1b1b" stroke-width="2.9" stroke-linejoin="round" stroke-linecap="round" />
<ellipse cx="515" cy="1611.5" rx="10.5" ry="15.5" fill="none" stroke="#1b1b1b" stroke-width="2.9" transform="rotate(22 515 1611.5)"/>
<path d="M510,1598 L507,1611 L512,1625 M507,1611 L499,1606" fill="none" stroke="#1b1b1b" stroke-width="2.4" stroke-linejoin="round" stroke-linecap="round" />
<path d="M495,1596 L501,1593 L504,1608 L500,1614 L494,1611 Z" fill="#1b1b1b" stroke="none" />
<path d="M175.5,1409 C179,1407 182,1406 185.6,1406.5 L201,1415.4 C203,1419 204,1423 203.5,1426.8 L201,1437 C196,1441 191,1444 185.6,1444.6 L170.4,1439.5 C168,1436 166,1432 166.5,1429.4 L169,1416.6 C171,1413 173,1410 175.5,1409 Z" fill="#fbfbfb" stroke="#1b1b1b" stroke-width="3.0" stroke-linejoin="round" stroke-linecap="round" />
<path d="M179,1409 L184.5,1418.5 L199,1420 M184.5,1418.5 L178,1428.5 L167,1428 M178,1428.5 L182,1442" fill="none" stroke="#1b1b1b" stroke-width="2.4" stroke-linejoin="round" stroke-linecap="round" />
<ellipse cx="193.5" cy="1431" rx="9.5" ry="12" fill="#fbfbfb" stroke="#1b1b1b" stroke-width="2.6" transform="rotate(20 193.5 1431)"/>
<ellipse cx="192" cy="1431" rx="6.5" ry="10" fill="#1b1b1b" transform="rotate(20 192 1431)"/>
<ellipse cx="191" cy="1435.5" rx="2.6" ry="2.6" fill="#fbfbfb"/>
<polyline points="160.0,1411.0 170.4,1416.0" fill="none" stroke="#1b1b1b" stroke-width="1.6" stroke-linejoin="round" stroke-linecap="round" />
<polyline points="202.0,1434.5 216.0,1442.0" fill="none" stroke="#1b1b1b" stroke-width="1.6" stroke-linejoin="round" stroke-linecap="round" />
<ellipse cx="233" cy="1451.6" rx="19" ry="24.5" fill="#fbfbfb" stroke="#1b1b1b" stroke-width="3" transform="rotate(28 233 1451.6)"/>
<ellipse cx="238" cy="1453.5" rx="14" ry="20" fill="none" stroke="#1b1b1b" stroke-width="2" transform="rotate(28 238 1453.5)"/>
<ellipse cx="249.5" cy="1460" rx="11.5" ry="15.5" fill="#fbfbfb" stroke="#1b1b1b" stroke-width="3" transform="rotate(28 249.5 1460)"/>
<ellipse cx="250.5" cy="1461.5" rx="7" ry="9.5" fill="#1b1b1b" transform="rotate(28 250.5 1461.5)"/>
<ellipse cx="249.5" cy="1464" rx="3" ry="3.5" fill="#fbfbfb"/>
<polyline points="259.5,1466.3 272.2,1474.0 323.6,1443.6" fill="none" stroke="#1b1b1b" stroke-width="1.8" stroke-linejoin="round" stroke-linecap="round" />
<polyline points="336.0,1436.0 401.0,1398.7 417.5,1406.4" fill="none" stroke="#1b1b1b" stroke-width="1.8" stroke-linejoin="round" stroke-linecap="round" />
<polyline points="438.2,1420.5 488.4,1446.7" fill="none" stroke="#1b1b1b" stroke-width="1.8" stroke-linejoin="round" stroke-linecap="round" />
<polyline points="471.0,1435.8 488.4,1429.3 488.4,1446.7" fill="none" stroke="#1b1b1b" stroke-width="1.8" stroke-linejoin="round" stroke-linecap="round" />
<polyline points="492.7,1450.0 516.7,1462.0" fill="none" stroke="#1b1b1b" stroke-width="1.8" stroke-linejoin="round" stroke-linecap="round" />
<polyline points="540.7,1477.3 559.3,1488.2 501.5,1523.0" fill="none" stroke="#1b1b1b" stroke-width="1.8" stroke-linejoin="round" stroke-linecap="round" />
<polyline points="490.5,1529.6 431.6,1564.6 455.6,1578.7" fill="none" stroke="#1b1b1b" stroke-width="1.8" stroke-linejoin="round" stroke-linecap="round" />
<polyline points="488.4,1453.3 488.4,1457.6 486.0,1459.8 438.2,1486.0" fill="none" stroke="#1b1b1b" stroke-width="1.8" stroke-linejoin="round" stroke-linecap="round" />
<polyline points="425.0,1494.7 356.4,1534.0 356.4,1577.0" fill="none" stroke="#1b1b1b" stroke-width="1.8" stroke-linejoin="round" stroke-linecap="round" />
<polyline points="358.0,1600.0 358.0,1620.0" fill="none" stroke="#1b1b1b" stroke-width="1.8" stroke-linejoin="round" stroke-linecap="round" />
<polyline points="358.0,1628.0 358.0,1645.0" fill="none" stroke="#1b1b1b" stroke-width="1.8" stroke-linejoin="round" stroke-linecap="round" />
<polyline points="358.0,1652.0 358.0,1664.0" fill="none" stroke="#1b1b1b" stroke-width="1.8" stroke-linejoin="round" stroke-linecap="round" />
<polyline points="720.0,1297.0 721.0,1372.8 827.0,1430.0" fill="none" stroke="#1b1b1b" stroke-width="1.8" stroke-linejoin="round" stroke-linecap="round" />
<polyline points="838.0,1436.0 955.3,1501.0 956.5,1583.0" fill="none" stroke="#1b1b1b" stroke-width="1.8" stroke-linejoin="round" stroke-linecap="round" />
<polyline points="957.0,1592.0 958.0,1700.0" fill="none" stroke="#1b1b1b" stroke-width="1.8" stroke-linejoin="round" stroke-linecap="round" />
<polyline points="678.6,1320.0 680.0,1368.0 748.0,1403.7" fill="none" stroke="#1b1b1b" stroke-width="1.8" stroke-linejoin="round" stroke-linecap="round" />
<polyline points="759.0,1411.5 780.6,1422.0 780.6,1436.0" fill="none" stroke="#1b1b1b" stroke-width="1.8" stroke-linejoin="round" stroke-linecap="round" />
<polyline points="780.6,1476.0 781.0,1497.0" fill="none" stroke="#1b1b1b" stroke-width="1.8" stroke-linejoin="round" stroke-linecap="round" />
<polyline points="781.0,1505.0 781.6,1529.0" fill="none" stroke="#1b1b1b" stroke-width="1.8" stroke-linejoin="round" stroke-linecap="round" />
<polyline points="676.6,1458.0 676.6,1471.0" fill="none" stroke="#1b1b1b" stroke-width="1.8" stroke-linejoin="round" stroke-linecap="round" />
<polyline points="677.7,1507.5 679.6,1549.5" fill="none" stroke="#1b1b1b" stroke-width="1.8" stroke-linejoin="round" stroke-linecap="round" />
<polyline points="679.6,1584.0 680.5,1640.0" fill="none" stroke="#1b1b1b" stroke-width="1.8" stroke-linejoin="round" stroke-linecap="round" />
<polyline points="680.5,1650.0 681.5,1694.0" fill="none" stroke="#1b1b1b" stroke-width="1.8" stroke-linejoin="round" stroke-linecap="round" />
<polyline points="679.0,1738.0 679.0,1755.0" fill="none" stroke="#1b1b1b" stroke-width="1.8" stroke-linejoin="round" stroke-linecap="round" />
<polyline points="680.0,1782.0 680.0,1793.0" fill="none" stroke="#1b1b1b" stroke-width="1.8" stroke-linejoin="round" stroke-linecap="round" />
<polyline points="960.0,1749.0 960.0,1769.0" fill="none" stroke="#1b1b1b" stroke-width="1.8" stroke-linejoin="round" stroke-linecap="round" />
<text transform="translate(223.00,0) scale(0.731,1) translate(-224.00,0)" x="221.9" y="201.5" font-size="28.6" class="lb">1</text>
<text transform="translate(856.00,0) scale(1.074,1) translate(-856.00,0)" x="854.9" y="429.0" font-size="26.5" class="lb">27</text>
<text transform="translate(448.75,0) scale(0.958,1) translate(-448.00,0)" x="447.6" y="511.0" font-size="27.9" class="lb">25</text>
<text transform="translate(443.75,0) scale(0.958,1) translate(-443.00,0)" x="442.6" y="580.0" font-size="27.9" class="lb">24</text>
<text transform="translate(261.80,0) scale(0.938,1) translate(-262.00,0)" x="260.6" y="631.8" font-size="30.4" class="lb">25</text>
<text transform="translate(257.00,0) scale(0.919,1) translate(-257.00,0)" x="255.8" y="694.5" font-size="29.2" class="lb">24</text>
<text transform="translate(292.70,0) scale(0.970,1) translate(-293.00,0)" x="291.5" y="791.0" font-size="29.3" class="lb">22</text>
<text transform="translate(861.80,0) scale(0.910,1) translate(-862.00,0)" x="860.6" y="727.3" font-size="29.2" class="lb">24</text>
<text transform="translate(857.00,0) scale(1.077,1) translate(-857.00,0)" x="855.9" y="786.0" font-size="26.5" class="lb">2</text>
<text transform="translate(781.00,0) scale(1.100,1) translate(-781.00,0)" x="779.8" y="972.5" font-size="30.0" class="lb">8</text>
<text transform="translate(169.00,0) scale(0.964,1) translate(-169.00,0)" x="167.9" y="1045.0" font-size="27.9" class="lb">3</text>
<text transform="translate(98.00,0) scale(1.050,1) translate(-98.00,0)" x="96.9" y="1511.0" font-size="27.9" class="lb">8</text>
<text transform="translate(158.00,0) scale(1.000,1) translate(-158.00,0)" x="156.9" y="1558.0" font-size="27.9" class="lb">7</text>
<text transform="translate(233.80,0) scale(0.961,1) translate(-235.00,0)" x="232.7" y="1572.7" font-size="28.4" class="lb">18</text>
<text transform="translate(252.70,0) scale(1.100,1) translate(-253.00,0)" x="251.6" y="1711.0" font-size="27.9" class="lb">6</text>
<text transform="translate(427.00,0) scale(1.000,1) translate(-427.00,0)" x="425.9" y="1702.0" font-size="27.9" class="lb">26</text>
<text transform="translate(563.00,0) scale(0.962,1) translate(-564.00,0)" x="561.9" y="1429.0" font-size="26.5" class="lb">17</text>
<text transform="translate(586.00,0) scale(0.926,1) translate(-587.00,0)" x="584.9" y="1475.0" font-size="26.5" class="lb">18</text>
<text transform="translate(555.50,0) scale(0.964,1) translate(-555.00,0)" x="554.4" y="1656.0" font-size="26.5" class="lb">4</text>
<text transform="translate(872.00,0) scale(0.929,1) translate(-873.00,0)" x="870.9" y="1502.7" font-size="28.1" class="lb">18</text>
<text transform="translate(861.00,0) scale(1.077,1) translate(-861.00,0)" x="860.0" y="1614.0" font-size="26.0" class="lb">6</text>
<text transform="translate(528.00,0) scale(0.931,1) translate(-529.00,0)" x="526.9" y="1780.8" font-size="28.5" class="lb">16</text>
<text transform="translate(1063.60,0) scale(0.880,1) translate(-1064.00,0)" x="1062.4" y="1671.0" font-size="29.3" class="lb">13</text>
<text transform="translate(1042.70,0) scale(0.939,1) translate(-1043.00,0)" x="1041.6" y="1773.6" font-size="27.9" class="lb">17</text>
<text transform="translate(587.00,0) scale(1.123,1) translate(-587.00,0)" x="585.9" y="1839.0" font-size="26.5" class="lb">8</text>
<line x1="239.5" y1="195.0" x2="292.3" y2="221.4" stroke="#1b1b1b" stroke-width="4.2" stroke-linecap="round"/>
<polygon points="307.5,229.0 287.9,225.7 293.2,221.8 293.1,215.3" fill="#1b1b1b"/>
<line x1="845.0" y1="425.0" x2="701.9" y2="477.9" stroke="#1b1b1b" stroke-width="4.2" stroke-linecap="round"/>
<polygon points="686.0,483.8 701.8,471.7 701.0,478.2 705.8,482.6" fill="#1b1b1b"/>
<line x1="481.0" y1="502.5" x2="534.1" y2="522.7" stroke="#1b1b1b" stroke-width="4.2" stroke-linecap="round"/>
<polygon points="550.0,528.8 530.2,527.4 535.0,523.1 534.3,516.6" fill="#1b1b1b"/>
<line x1="476.0" y1="570.0" x2="535.5" y2="571.9" stroke="#1b1b1b" stroke-width="4.2" stroke-linecap="round"/>
<polygon points="552.5,572.5 533.3,577.7 536.5,572.0 533.7,566.1" fill="#1b1b1b"/>
<line x1="298.0" y1="626.0" x2="353.2" y2="648.2" stroke="#1b1b1b" stroke-width="4.2" stroke-linecap="round"/>
<polygon points="369.0,654.5 349.2,652.8 354.2,648.5 353.5,642.0" fill="#1b1b1b"/>
<line x1="291.8" y1="684.5" x2="351.2" y2="693.1" stroke="#1b1b1b" stroke-width="4.2" stroke-linecap="round"/>
<polygon points="368.0,695.5 348.4,698.5 352.2,693.2 350.0,687.0" fill="#1b1b1b"/>
<line x1="328.0" y1="781.0" x2="389.0" y2="785.2" stroke="#1b1b1b" stroke-width="4.2" stroke-linecap="round"/>
<polygon points="406.0,786.4 386.6,790.9 390.0,785.3 387.4,779.3" fill="#1b1b1b"/>
<line x1="854.5" y1="718.0" x2="797.1" y2="737.3" stroke="#1b1b1b" stroke-width="4.2" stroke-linecap="round"/>
<polygon points="781.0,742.7 797.2,731.1 796.2,737.6 800.9,742.1" fill="#1b1b1b"/>
<line x1="851.0" y1="779.0" x2="792.1" y2="791.9" stroke="#1b1b1b" stroke-width="4.2" stroke-linecap="round"/>
<polygon points="775.5,795.5 792.8,785.8 791.1,792.1 795.3,797.1" fill="#1b1b1b"/>
<line x1="777.5" y1="970.0" x2="741.4" y2="1009.9" stroke="#1b1b1b" stroke-width="4.2" stroke-linecap="round"/>
<polygon points="730.0,1022.5 738.4,1004.5 740.7,1010.6 747.0,1012.3" fill="#1b1b1b"/>
<line x1="187.5" y1="1035.0" x2="241.9" y2="1058.3" stroke="#1b1b1b" stroke-width="4.2" stroke-linecap="round"/>
<polygon points="257.5,1065.0 237.8,1062.8 242.8,1058.7 242.3,1052.2" fill="#1b1b1b"/>
<line x1="118.0" y1="1489.0" x2="159.6" y2="1454.5" stroke="#1b1b1b" stroke-width="4.2" stroke-linecap="round"/>
<polygon points="172.7,1443.6 161.8,1460.2 160.4,1453.8 154.4,1451.3" fill="#1b1b1b"/>
<line x1="174.5" y1="1532.7" x2="209.4" y2="1489.3" stroke="#1b1b1b" stroke-width="4.2" stroke-linecap="round"/>
<polygon points="220.0,1476.0 212.6,1494.4 210.0,1488.5 203.6,1487.2" fill="#1b1b1b"/>
<line x1="265.5" y1="1565.5" x2="321.6" y2="1581.0" stroke="#1b1b1b" stroke-width="4.2" stroke-linecap="round"/>
<polygon points="338.0,1585.5 318.1,1586.0 322.6,1581.2 321.2,1574.9" fill="#1b1b1b"/>
<line x1="272.7" y1="1700.0" x2="328.8" y2="1690.0" stroke="#1b1b1b" stroke-width="4.2" stroke-linecap="round"/>
<polygon points="345.5,1687.0 327.8,1696.0 329.7,1689.8 325.8,1684.6" fill="#1b1b1b"/>
<line x1="451.0" y1="1674.5" x2="476.6" y2="1629.2" stroke="#1b1b1b" stroke-width="4.2" stroke-linecap="round"/>
<polygon points="485.0,1614.4 480.7,1633.8 477.1,1628.3 470.6,1628.1" fill="#1b1b1b"/>
<line x1="593.7" y1="1416.0" x2="649.3" y2="1426.0" stroke="#1b1b1b" stroke-width="4.2" stroke-linecap="round"/>
<polygon points="666.0,1429.0 646.3,1431.3 650.3,1426.2 648.3,1419.9" fill="#1b1b1b"/>
<line x1="614.7" y1="1465.5" x2="642.5" y2="1475.1" stroke="#1b1b1b" stroke-width="4.2" stroke-linecap="round"/>
<polygon points="658.6,1480.7 638.7,1480.0 643.5,1475.5 642.5,1469.0" fill="#1b1b1b"/>
<line x1="572.7" y1="1635.4" x2="606.0" y2="1593.3" stroke="#1b1b1b" stroke-width="4.2" stroke-linecap="round"/>
<polygon points="616.6,1580.0 609.3,1598.5 606.7,1592.5 600.3,1591.3" fill="#1b1b1b"/>
<line x1="868.7" y1="1490.0" x2="813.6" y2="1469.8" stroke="#1b1b1b" stroke-width="4.2" stroke-linecap="round"/>
<polygon points="797.6,1464.0 817.4,1465.1 812.6,1469.5 813.5,1476.0" fill="#1b1b1b"/>
<line x1="853.0" y1="1600.0" x2="808.4" y2="1567.9" stroke="#1b1b1b" stroke-width="4.2" stroke-linecap="round"/>
<polygon points="794.6,1558.0 813.4,1564.4 807.6,1567.3 806.6,1573.8" fill="#1b1b1b"/>
<line x1="557.0" y1="1760.0" x2="596.6" y2="1722.7" stroke="#1b1b1b" stroke-width="4.2" stroke-linecap="round"/>
<polygon points="609.0,1711.0 599.1,1728.3 597.4,1722.0 591.2,1719.8" fill="#1b1b1b"/>
<line x1="1058.0" y1="1662.7" x2="1008.5" y2="1689.8" stroke="#1b1b1b" stroke-width="4.2" stroke-linecap="round"/>
<polygon points="993.6,1698.0 1007.5,1683.8 1007.6,1690.3 1013.0,1694.0" fill="#1b1b1b"/>
<line x1="1037.0" y1="1763.6" x2="987.5" y2="1791.6" stroke="#1b1b1b" stroke-width="4.2" stroke-linecap="round"/>
<polygon points="972.7,1800.0 986.4,1785.6 986.6,1792.1 992.1,1795.7" fill="#1b1b1b"/>
<line x1="609.0" y1="1822.8" x2="650.0" y2="1792.2" stroke="#1b1b1b" stroke-width="4.2" stroke-linecap="round"/>
<polygon points="663.6,1782.0 651.9,1798.0 650.8,1791.6 644.9,1788.7" fill="#1b1b1b"/>
</svg></body></html>
